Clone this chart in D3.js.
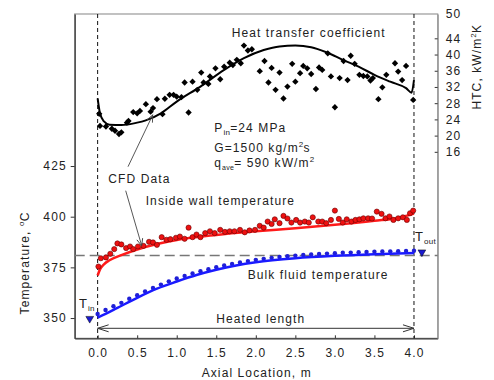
<!DOCTYPE html>
<html>
<head>
<meta charset="utf-8">
<script src="https://cdn.jsdelivr.net/npm/d3@7"></script>
<style>
  body { margin: 0; background: #fff; }
  svg { font-family: "Liberation Sans", Arial, sans-serif; }
  .lbl { font-size: 12px; letter-spacing: 1.1px; fill: #222; }
  .axis text { font-size: 12px; letter-spacing: 1.1px; fill: #222; font-family: "Liberation Sans", Arial, sans-serif; }
</style>
</head>
<body>
<svg id="chart" width="494" height="380"></svg>
<script>
// experimental HTC (diamonds), [axial location m, HTC kW/m2K]
const htcExp = [[0.02,25.4],[0.03,22.4],[0.105,22.25],[0.18,21.7],[0.22,21.2],[0.27,20.4],[0.30,20.8],[0.37,23.2],[0.39,23.6],[0.45,25.8],[0.50,25.5],[0.535,26.1],[0.61,27.75],[0.67,25.9],[0.70,26.8],[0.75,29.0],[0.82,25.3],[0.85,29.1],[0.91,30.05],[0.96,30.05],[1.0,29.6],[1.06,29.5],[1.10,33.1],[1.15,25.7],[1.20,33.3],[1.26,31.3],[1.31,35.55],[1.34,33.1],[1.40,32.75],[1.42,34.6],[1.49,36.6],[1.55,33.9],[1.60,37.0],[1.67,38.0],[1.71,37.4],[1.76,38.7],[1.81,37.85],[1.85,42.2],[1.90,41.0],[1.95,41.3],[2.05,35.9],[2.11,38.4],[2.16,33.1],[2.20,36.7],[2.25,31.3],[2.30,35.55],[2.35,29.15],[2.40,32.1],[2.46,37.7],[2.50,33.3],[2.56,35.4],[2.60,37.2],[2.65,36.6],[2.70,35.2],[2.76,31.5],[2.80,36.8],[2.84,36.2],[2.91,40.3],[2.95,34.6],[3.00,27.0],[3.06,34.2],[3.11,38.4],[3.16,33.7],[3.20,39.7],[3.25,37.7],[3.31,35.0],[3.36,34.7],[3.41,34.6],[3.45,33.6],[3.48,34.2],[3.55,29.0],[3.60,31.9],[3.65,35.0],[3.76,37.85],[3.80,35.8],[3.85,33.7],[3.90,37.2],[3.99,28.8]];

// CFD HTC
const htcCfd = [[0,29.2],[0.03,25.5],[0.08,23.5],[0.15,22.7],[0.3,22.6],[0.5,23.2],[0.6,23.7],[0.8,25.5],[1.0,28.4],[1.3,32.1],[1.6,36.2],[1.85,39.1],[2.1,41.1],[2.3,42.0],[2.5,42.2],[2.7,41.8],[2.9,40.5],[3.1,38.7],[3.3,37.0],[3.5,35.0],[3.7,33.3],[3.9,31.7],[3.97,30.6],[4.0,33.7]];

// experimental inside wall temperature, [m, degC]
const wallExp = [[0.01,375.4],[0.04,379.5],[0.105,379.9],[0.16,381.7],[0.21,384.0],[0.25,386.8],[0.30,386.3],[0.36,384.5],[0.41,385.3],[0.45,384.0],[0.51,385.3],[0.58,385.6],[0.65,387.6],[0.70,387.3],[0.75,386.1],[0.81,389.9],[0.87,388.6],[0.92,388.9],[0.99,389.6],[1.04,390.2],[1.10,389.1],[1.15,394.6],[1.20,389.9],[1.25,391.2],[1.30,389.9],[1.36,391.9],[1.42,392.8],[1.48,391.9],[1.55,393.5],[1.61,392.5],[1.67,392.8],[1.73,392.8],[1.80,393.5],[1.86,392.3],[1.92,393.2],[1.99,393.5],[2.05,395.5],[2.10,394.6],[2.15,397.6],[2.20,396.4],[2.24,398.7],[2.30,396.8],[2.35,400.4],[2.40,399.1],[2.45,397.1],[2.51,398.4],[2.56,397.1],[2.62,397.6],[2.67,397.1],[2.72,399.7],[2.79,397.6],[2.84,397.6],[2.89,396.8],[2.95,398.4],[3.00,403.0],[3.05,398.9],[3.10,397.1],[3.15,398.7],[3.21,397.6],[3.26,398.4],[3.31,398.7],[3.36,399.2],[3.42,399.2],[3.47,399.1],[3.53,402.5],[3.59,401.4],[3.64,399.2],[3.69,400.1],[3.74,398.4],[3.80,399.2],[3.86,399.7],[3.91,398.4],[3.95,401.7],[3.99,403.0]];

// CFD wall temperature
const wallCfd = [[0,371],[0.03,374],[0.08,376.5],[0.15,378.5],[0.3,381],[0.5,383.8],[0.75,386.5],[1.0,388.5],[1.5,391],[2.0,392.8],[2.5,394.3],[3.0,396],[3.5,398],[3.8,399.4],[4.0,401.5]];

// experimental bulk fluid temperature
const bulkX = [0.0,0.1,0.2,0.3,0.4,0.5,0.6,0.7,0.8,0.9,1.0,1.1,1.2,1.3,1.4,1.5,1.6,1.7,1.8,1.9,2.0,2.1,2.2,2.3,2.4,2.5,2.6,2.7,2.8,2.9,3.0,3.1,3.2,3.3,3.4,3.5,3.6,3.7,3.8,3.9,4.0];
const bulkT = [351.5,353.5,355.3,357.0,359.0,360.8,362.6,364.3,366.0,367.6,369.0,370.3,371.5,372.6,373.6,374.6,375.4,376.2,376.9,377.6,378.2,378.7,379.2,379.6,380.0,380.3,380.6,380.9,381.1,381.3,381.5,381.7,381.8,382.0,382.1,382.2,382.3,382.4,382.5,382.6,382.7];

// CFD bulk temperature
const bulkCfd = [[0,350.2],[0.1,352],[0.25,355],[0.5,360],[0.75,364.5],[1.0,368],[1.25,371.2],[1.5,373.8],[1.75,375.9],[2.0,377.5],[2.5,379.5],[3.0,380.7],[3.5,381.5],[4.0,382.1]];

const inletOutlet = [[-0.1,349.7],[4.1,382.5]];
const pseudoCritical = 380.8;
const heated = [0, 4];

const xTicks = [0,0.5,1,1.5,2,2.5,3,3.5,4];
const tTicks = [350,375,400,425];
const hTicks = [16,20,24,28,32,36,40,44,50];

const LEFT = 74.7, RIGHT = 437.7, TOP = 14, BOTTOM = 338.3;

const svg = d3.select('#chart');

const x = d3.scaleLinear().domain([-0.29, 4.3]).range([LEFT, RIGHT]);
const yT = d3.scaleLinear().domain([340, 500]).range([BOTTOM, TOP]);
const yH = d3.scaleLinear().domain([-30, 50]).range([BOTTOM, TOP]);

// frame
svg.append('rect')
  .attr('x', LEFT).attr('y', TOP)
  .attr('width', RIGHT - LEFT).attr('height', BOTTOM - TOP)
  .attr('fill', 'none').attr('stroke', '#999').attr('stroke-width', 1.2);

// axes
const xAxis = svg.append('g').attr('class', 'axis')
  .attr('transform', `translate(0,${BOTTOM})`)
  .call(d3.axisBottom(x).tickValues(xTicks).tickFormat(d3.format('.1f'))
    .tickSizeInner(-3).tickSizeOuter(0).tickPadding(10.5));
const tAxis = svg.append('g').attr('class', 'axis')
  .attr('transform', `translate(${LEFT},0)`)
  .call(d3.axisLeft(yT).tickValues(tTicks).tickSizeInner(4).tickSizeOuter(0).tickPadding(4));
const hAxis = svg.append('g').attr('class', 'axis')
  .attr('transform', `translate(${RIGHT},0)`)
  .call(d3.axisRight(yH).tickValues(hTicks).tickSizeInner(-3).tickSizeOuter(0).tickPadding(8));
hAxis.selectAll('.tick').filter(d => d === 50).select('line').remove();
xAxis.select('.domain').attr('stroke', '#333').attr('stroke-width', 1.2);
tAxis.select('.domain').attr('stroke', '#333').attr('stroke-width', 1.2);
hAxis.select('.domain').attr('stroke', '#999').attr('stroke-width', 1.2);
svg.selectAll('.axis .tick line').attr('stroke', '#333');

// reference lines
heated.forEach(v => {
  svg.append('line')
    .attr('x1', x(v)).attr('x2', x(v)).attr('y1', TOP).attr('y2', BOTTOM)
    .attr('stroke', '#111').attr('stroke-width', 1).attr('stroke-dasharray', '4,3');
});
svg.append('line')
  .attr('x1', LEFT).attr('x2', RIGHT).attr('y1', yT(pseudoCritical)).attr('y2', yT(pseudoCritical))
  .attr('stroke', '#777').attr('stroke-width', 1.5).attr('stroke-dasharray', '10,5');

// arrow heads
const defs = svg.append('defs');
defs.append('marker').attr('id', 'openHead')
  .attr('viewBox', '-12 -5 14 10').attr('refX', 0).attr('refY', 0)
  .attr('markerWidth', 14).attr('markerHeight', 10)
  .attr('markerUnits', 'userSpaceOnUse').attr('orient', 'auto-start-reverse')
  .append('path').attr('d', 'M-11,-3.5L0,0L-11,3.5').attr('fill', 'none')
  .attr('stroke', '#333').attr('stroke-width', 1);
defs.append('marker').attr('id', 'smallHead')
  .attr('viewBox', '-10 -5 12 10').attr('refX', 0).attr('refY', 0)
  .attr('markerWidth', 12).attr('markerHeight', 10)
  .attr('markerUnits', 'userSpaceOnUse').attr('orient', 'auto')
  .append('path').attr('d', 'M-7,-3L0,0L-7,3').attr('fill', 'none')
  .attr('stroke', '#444').attr('stroke-width', 0.9);

// experimental points
const diamond = d3.symbol(d3.symbolSquare, 20);
svg.append('g').selectAll('path')
  .data(htcExp).enter().append('path')
  .attr('d', diamond)
  .attr('transform', d => `translate(${x(d[0])},${yH(d[1])}) rotate(45)`)
  .attr('fill', '#000');

svg.append('g').selectAll('circle')
  .data(bulkX).enter().append('circle')
  .attr('cx', d => x(d)).attr('cy', (d, i) => yT(bulkT[i]) - 1)
  .attr('r', 2.2).attr('fill', '#1f1fd6');

// CFD lines
const lineH = d3.line().x(d => x(d[0])).y(d => yH(d[1])).curve(d3.curveMonotoneX);
const lineT = d3.line().x(d => x(d[0])).y(d => yT(d[1])).curve(d3.curveMonotoneX);

svg.append('path').datum(htcCfd).attr('d', lineH)
  .attr('fill', 'none').attr('stroke', '#000').attr('stroke-width', 2);
svg.append('path').datum(bulkCfd).attr('d', lineT)
  .attr('fill', 'none').attr('stroke', '#1a1aff').attr('stroke-width', 2.5);
svg.append('path').datum(wallCfd).attr('d', lineT)
  .attr('fill', 'none').attr('stroke', '#ff1a1a').attr('stroke-width', 2.5);

svg.append('g').selectAll('circle')
  .data(wallExp).enter().append('circle')
  .attr('cx', d => x(d[0])).attr('cy', d => yT(d[1]))
  .attr('r', 2.6).attr('fill', '#ee1111').attr('stroke', '#600').attr('stroke-width', 0.6);

// inlet / outlet triangles
const tri = d3.symbol(d3.symbolTriangle, 26);
svg.append('g').selectAll('path')
  .data(inletOutlet).enter().append('path')
  .attr('d', tri)
  .attr('transform', d => `translate(${x(d[0])},${yT(d[1])}) rotate(180)`)
  .attr('fill', '#1a1ad0').attr('stroke', '#000').attr('stroke-width', 0.5);

// heated length arrow
svg.append('line')
  .attr('x1', x(heated[0])).attr('x2', x(heated[1]))
  .attr('y1', 328.3).attr('y2', 328.3)
  .attr('stroke', '#333').attr('stroke-width', 1)
  .attr('marker-start', 'url(#openHead)').attr('marker-end', 'url(#openHead)');

// CFD pointers
svg.append('line').attr('x1', 128).attr('y1', 166.7).attr('x2', 152.7).attr('y2', 115)
  .attr('stroke', '#444').attr('stroke-width', 0.9).attr('marker-end', 'url(#smallHead)');
svg.append('line').attr('x1', 125.7).attr('y1', 190.7).attr('x2', 141.7).attr('y2', 245.7)
  .attr('stroke', '#444').attr('stroke-width', 0.9).attr('marker-end', 'url(#smallHead)');

// labels
const addText = (tx, ty, parts, anchor) => {
  const t = svg.append('text').attr('class', 'lbl')
    .attr('x', tx).attr('y', ty).attr('text-anchor', anchor || 'start');
  parts.forEach(p => {
    const s = t.append('tspan').text(p.t);
    if (p.dy) s.attr('dy', p.dy);
    if (p.fs) s.style('font-size', p.fs + 'px').style('letter-spacing', '0.3px');
  });
  return t;
};

addText(231.7, 37, [{ t: 'Heat transfer coefficient' }]);
addText(214.3, 131.7, [{ t: 'P' }, { t: 'in', fs: 8, dy: 3 }, { t: '=24 MPa', dy: -3 }]);
addText(214.3, 151.7, [{ t: 'G=1500 kg/m' }, { t: '2', fs: 8, dy: -5 }, { t: 's', dy: 5 }]);
addText(214.3, 166.7, [{ t: 'q' }, { t: 'ave', fs: 7, dy: 3 }, { t: '= 590 kW/m', dy: -3 }, { t: '2', fs: 8, dy: -5 }]);
addText(108.3, 182.7, [{ t: 'CFD Data' }]);
addText(145.7, 205, [{ t: 'Inside wall temperature' }]);
addText(247.7, 279.3, [{ t: 'Bulk fluid temperature' }]);
addText(260.7, 323.3, [{ t: 'Heated length' }], 'middle');
addText(79, 308.3, [{ t: 'T' }, { t: 'in', fs: 8, dy: 3 }]).style('font-size', '13px');
addText(415, 240.7, [{ t: 'T' }, { t: 'out', fs: 8, dy: 3 }]).style('font-size', '13px');

// axis titles
addText(256.7, 377.3, [{ t: 'Axial Location, m' }], 'middle');
addText(0, 0, [{ t: 'Temperature, ' }, { t: 'o', fs: 8, dy: -5 }, { t: 'C', dy: 5 }], 'middle')
  .attr('transform', 'translate(29,263) rotate(-90)');
addText(0, 0, [{ t: 'HTC, kW/m' }, { t: '2', fs: 8, dy: -5 }, { t: 'K', dy: 5 }], 'middle')
  .attr('transform', 'translate(481,66.7) rotate(-90)');
</script>
</body>
</html>
